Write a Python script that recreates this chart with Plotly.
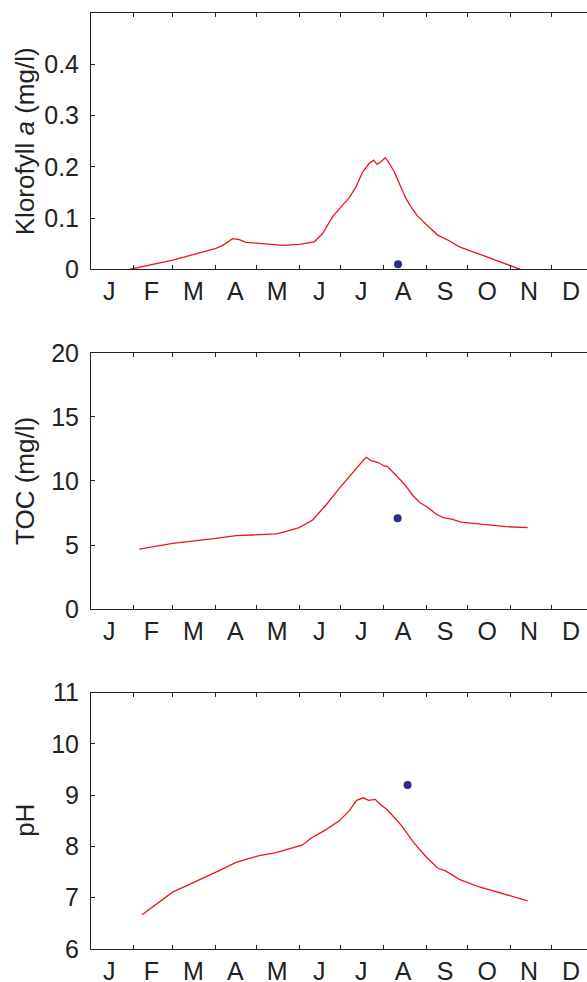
import plotly.graph_objects as go

# ---------------- data ----------------
months = ["J", "F", "M", "A", "M", "J", "J", "A", "S", "O", "N", "D"]
month_starts = [31, 59, 90, 120, 151, 181, 212, 243, 273, 304, 334]

chl_day = [27.8, 59.1, 90.6, 95.4, 102.6, 107.5, 112.3, 126.8, 138.8, 150.9, 161.8,
           167.8, 175.1, 181.2, 187.2, 192.0, 196.8, 201.7, 204.8, 207.2, 210.1,
           213.3, 216.2, 219.8, 224.6, 228.3, 231.9, 236.7, 242.8, 251.2, 259.6,
           266.9, 281.4, 295.9, 310.4, 316.4]
chl_val = [0.0, 0.018, 0.041, 0.047, 0.060, 0.058, 0.053, 0.049, 0.047, 0.049, 0.054,
           0.070, 0.103, 0.122, 0.140, 0.161, 0.190, 0.207, 0.213, 0.205, 0.210,
           0.218, 0.207, 0.190, 0.161, 0.138, 0.122, 0.104, 0.088, 0.067, 0.056,
           0.044, 0.030, 0.015, 0.0, -0.005]
chl_obs_day = [222.5]
chl_obs_val = [0.01]

toc_day = [35.0, 59.1, 90.6, 105.1, 117.1, 134.1, 138.8, 150.9, 160.6, 170.3, 179.9,
           192.0, 198.0, 199.7, 202.9, 207.7, 212.5, 214.9, 221.0, 227.0, 233.0,
           237.9, 243.9, 250.0, 254.8, 262.0, 268.1, 281.4, 300.7, 316.4]
toc_val = [4.68, 5.14, 5.53, 5.74, 5.79, 5.87, 6.0, 6.36, 6.96, 8.13, 9.43,
           10.99, 11.69, 11.85, 11.58, 11.46, 11.17, 11.12, 10.47, 9.77, 8.91,
           8.34, 7.95, 7.43, 7.17, 7.01, 6.80, 6.65, 6.44, 6.36]
toc_obs_day = [222.2]
toc_obs_val = [7.1]

ph_day = [37.0, 59.1, 90.6, 105.1, 114.7, 122.0, 134.1, 143.7, 150.9, 153.3, 159.4,
          170.3, 179.9, 187.2, 192.5, 197.3, 201.2, 206.0, 208.9, 214.9, 224.6,
          234.3, 242.8, 251.2, 257.2, 266.9, 281.4, 300.7, 316.4]
ph_val = [6.67, 7.11, 7.50, 7.69, 7.77, 7.82, 7.88, 7.96, 8.01, 8.03, 8.16,
          8.33, 8.50, 8.70, 8.90, 8.95, 8.90, 8.92, 8.84, 8.71, 8.42,
          8.06, 7.80, 7.58, 7.52, 7.36, 7.21, 7.06, 6.94]
ph_obs_day = [229.4]
ph_obs_val = [9.2]

chl_ticks = [0, 0.1, 0.2, 0.3, 0.4]
toc_ticks = [0, 5, 10, 15, 20]
ph_ticks = [6, 7, 8, 9, 10, 11]

# ---------------- styling ----------------
FONT = "Liberation Sans, Arial, Helvetica, sans-serif"
AX = "#222222"
RED = "#f0141e"
BLUE = "#2b2c8c"
W, H = 587, 982
ML, MR, MT, MB = 91, 0, 13, 33
label_pos = [(k + 0.5) * 365 / 12 - 1.9 for k in range(12)]
XMAX = (W - ML - MR) / 1.38

fig = go.Figure()

series = [
    (chl_day, chl_val, chl_obs_day, chl_obs_val, "x", "y"),
    (toc_day, toc_val, toc_obs_day, toc_obs_val, "x2", "y2"),
    (ph_day, ph_val, ph_obs_day, ph_obs_val, "x3", "y3"),
]
for d, v, od, ov, xa, ya in series:
    fig.add_trace(go.Scatter(x=d, y=v, mode="lines", line=dict(color=RED, width=1.3),
                             xaxis=xa, yaxis=ya, showlegend=False, hoverinfo="skip"))
    fig.add_trace(go.Scatter(x=od, y=ov, mode="markers", marker=dict(color=BLUE, size=8),
                             xaxis=xa, yaxis=ya, showlegend=False))

domains = [[0.726, 1.0], [0.363, 0.637], [0.0, 0.2738]]
yranges = [[0, 0.5], [0, 20], [6, 11]]
yticks = [chl_ticks, toc_ticks, ph_ticks]
ytext = [["0", "0.1", "0.2", "0.3", "0.4"], [str(t) for t in toc_ticks], [str(t) for t in ph_ticks]]
titles = ["Klorofyll <i>a</i> (mg/l)", "TOC (mg/l)", "pH"]

layout = dict(
    width=W, height=H, autosize=False,
    margin=dict(l=ML, r=MR, t=MT, b=MB, pad=0),
    paper_bgcolor="white", plot_bgcolor="white",
    font=dict(family=FONT, size=25, color=AX),
    showlegend=False,
)
annotations = []
for i in range(3):
    sx = "" if i == 0 else str(i + 1)
    layout["xaxis" + sx] = dict(
        domain=[0, 1], anchor="y" + sx, range=[0, XMAX], automargin=False,
        tickmode="array", tickvals=label_pos, ticktext=months,
        ticks="", ticklen=0, ticklabelstandoff=0,
        minor=dict(tickmode="array", tickvals=month_starts, ticks="inside",
                   ticklen=4, tickcolor=AX, tickwidth=1, showgrid=False),
        showline=True, linecolor=AX, linewidth=1, mirror="ticks",
        showgrid=False, zeroline=False, fixedrange=True,
        tickfont=dict(size=25, color=AX),
    )
    layout["yaxis" + sx] = dict(
        domain=domains[i], anchor="x" + sx, range=yranges[i], automargin=False,
        tickmode="array", tickvals=yticks[i], ticktext=ytext[i],
        ticks="inside", ticklen=4, tickcolor=AX, tickwidth=1, ticklabelstandoff=6,
        showline=True, linecolor=AX, linewidth=1, mirror=False,
        showgrid=False, zeroline=False, fixedrange=True,
        tickfont=dict(size=25, color=AX),
    )
    annotations.append(dict(
        text=titles[i], xref="paper", yref="paper", x=0, xshift=-(ML - 25),
        y=(domains[i][0] + domains[i][1]) / 2, xanchor="center", yanchor="middle",
        textangle=-90, showarrow=False, font=dict(size=26, color=AX, family=FONT),
    ))
layout["annotations"] = annotations
fig.update_layout(**layout)

# remove the default 8px page margin so the figure fills the window exactly
fig.write_html(
    "out.html",
    config={"displayModeBar": False},
    post_script="document.body.style.margin='0';document.body.style.overflow='hidden';",
)
